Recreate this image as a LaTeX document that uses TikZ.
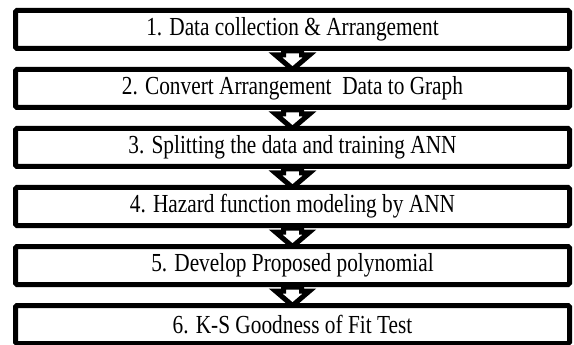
\documentclass[tikz,border=0pt]{standalone}
\usepackage{fontspec}
\setmainfont{Liberation Serif}[FakeStretch=0.82]
\usetikzlibrary{positioning,calc,backgrounds}

% block arrow between two steps
\newcommand{\flowarrow}[2]{%
  \begin{pgfonlayer}{background}
    \draw[flowarrowline] ($(#1.south)+(-9pt,0)$) -- ($(#2.north)+(-9pt,12pt)$)
      -- ($(#2.north)+(-17pt,12pt)$) -- ($(#2.north)+(0,-2.5pt)$)
      -- ($(#2.north)+(17pt,12pt)$) -- ($(#2.north)+(9pt,12pt)$)
      -- ($(#1.south)+(9pt,0)$) -- cycle;
  \end{pgfonlayer}}

\begin{document}
\begin{tikzpicture}

\tikzset{
    stepbox/.style={draw, line width=5pt, fill=white, rounded corners=1.5pt,
        minimum width=554pt, minimum height=38pt, inner sep=0pt,
        font=\fontsize{26}{30}\selectfont},
    flowarrowline/.style={draw, line width=5pt, fill=white, line join=miter},
    node distance=16pt
}
\useasboundingbox (0,0) rectangle (574pt,-345pt);

\node[stepbox] (collect) at (292.5pt,-29.5pt) {1. Data collection \& Arrangement};
\node[stepbox, below=of collect] (graph) {2. Convert Arrangement~ Data to Graph};
\node[stepbox, below=of graph] (train) {3. Splitting the data and training ANN};
\node[stepbox, below=of train] (hazard) {4. Hazard function modeling by ANN};
\node[stepbox, below=of hazard] (poly) {5. Develop Proposed polynomial};
\node[stepbox, below=of poly] (kstest) {6. K-S Goodness of Fit Test};

\flowarrow{collect}{graph}
\flowarrow{graph}{train}
\flowarrow{train}{hazard}
\flowarrow{hazard}{poly}
\flowarrow{poly}{kstest}

\end{tikzpicture}
\end{document}
